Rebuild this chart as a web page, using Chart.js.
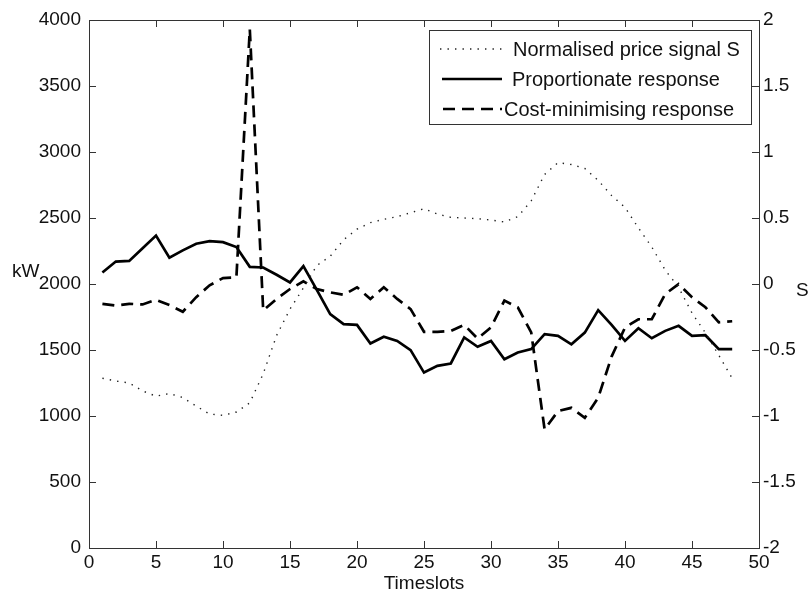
<!DOCTYPE html>
<html>
<head>
<meta charset="utf-8">
<script src="https://cdn.jsdelivr.net/npm/chart.js@4.4.1/dist/chart.umd.min.js"></script>
<style>
  html, body { margin: 0; padding: 0; background: #fff; }
  canvas { display: block; }
</style>
</head>
<body>
<canvas id="c" width="810" height="602"></canvas>
<script>
// ---- data ----
const timeslots = [1,2,3,4,5,6,7,8,9,10,11,12,13,14,15,16,17,18,19,20,21,22,23,24,
                   25,26,27,28,29,30,31,32,33,34,35,36,37,38,39,40,41,42,43,44,45,46,47,48];
const priceSignal = [-0.714,-0.735,-0.75,-0.81,-0.85,-0.83,-0.86,-0.925,-0.985,-0.995,-0.97,-0.9,
                     -0.68,-0.39,-0.19,-0.03,0.14,0.21,0.335,0.415,0.465,0.49,0.51,0.54,
                     0.57,0.53,0.505,0.5,0.495,0.485,0.47,0.51,0.63,0.83,0.92,0.905,
                     0.875,0.785,0.67,0.58,0.425,0.28,0.105,-0.025,-0.22,-0.37,-0.54,-0.715];
const proportionate = [2087,2170,2175,2270,2367,2200,2255,2305,2325,2317,2280,2130,
                       2125,2070,2012,2135,1955,1772,1696,1690,1549,1600,1569,1499,
                       1329,1380,1398,1595,1524,1569,1430,1481,1507,1620,1607,1543,
                       1632,1802,1691,1569,1665,1589,1645,1683,1607,1612,1507,1507];
const costMinimising = [1850,1837,1850,1845,1880,1840,1790,1900,1990,2045,2050,3930,
                        1800,1887,1962,2020,1962,1937,1918,1975,1887,1975,1887,1810,
                        1638,1638,1645,1690,1587,1671,1874,1823,1633,898,1037,1062,
                        986,1139,1450,1670,1733,1733,1924,1999,1900,1824,1710,1718];
const xTickValues = [0,5,10,15,20,25,30,35,40,45,50];
const kwTickValues = [0,500,1000,1500,2000,2500,3000,3500,4000];
const sTickValues = [-2,-1.5,-1,-0.5,0,0.5,1,1.5,2];
const seriesLabels = ['Normalised price signal S','Proportionate response','Cost-minimising response'];
const xTitle = 'Timeslots';
const leftTitle = 'kW';
const rightTitle = 'S';

// ---- styling ----
const FONT = '"Liberation Sans", Arial, Helvetica, sans-serif';
const TICK_SIZE = 19;
const AXIS_COLOR = '#333';
const TEXT_COLOR = '#111';

const toXY = (ys) => timeslots.map((t, i) => ({ x: t, y: ys[i] }));

const styles = [
  { color: '#222', width: 1.4, dash: [1.4, 6.1] },
  { color: '#000', width: 2.7, dash: [] },
  { color: '#000', width: 2.7, dash: [12, 7] }
];

const decorPlugin = {
  id: 'decor',
  afterDatasetsDraw(chart) {
    const { ctx, chartArea: a, scales } = chart;
    ctx.save();
    // frame
    ctx.strokeStyle = AXIS_COLOR;
    ctx.lineWidth = 1;
    ctx.strokeRect(Math.round(a.left) + 0.5, Math.round(a.top) + 0.5,
                   Math.round(a.right - a.left), Math.round(a.bottom - a.top));
    // inward ticks
    const TL = 7;
    ctx.beginPath();
    xTickValues.forEach(v => {
      const px = Math.round(scales.x.getPixelForValue(v)) + 0.5;
      ctx.moveTo(px, a.bottom); ctx.lineTo(px, a.bottom - TL);
      ctx.moveTo(px, a.top); ctx.lineTo(px, a.top + TL);
    });
    kwTickValues.forEach(v => {
      const py = Math.round(scales.y.getPixelForValue(v)) + 0.5;
      ctx.moveTo(a.left, py); ctx.lineTo(a.left + TL, py);
    });
    sTickValues.forEach(v => {
      const py = Math.round(scales.y2.getPixelForValue(v)) + 0.5;
      ctx.moveTo(a.right, py); ctx.lineTo(a.right - TL, py);
    });
    ctx.stroke();

    // axis titles
    ctx.fillStyle = TEXT_COLOR;
    ctx.font = TICK_SIZE + 'px ' + FONT;
    ctx.textBaseline = 'middle';
    ctx.textAlign = 'center';
    ctx.fillText(xTitle, (a.left + a.right) / 2, 584);
    ctx.textAlign = 'left';
    ctx.fillText(leftTitle, 12, 272);
    ctx.fillText(rightTitle, 796, 291);

    // legend
    const box = { l: 429.5, t: 30.5, r: 751.5, b: 124.5 };
    ctx.fillStyle = '#fff';
    ctx.fillRect(box.l, box.t, box.r - box.l, box.b - box.t);
    ctx.strokeStyle = AXIS_COLOR;
    ctx.lineWidth = 1;
    ctx.setLineDash([]);
    ctx.strokeRect(box.l, box.t, box.r - box.l, box.b - box.t);
    const rowsY = [49, 79, 109];
    const lineX = [[440, 503], [442, 502], [443, 502]];
    const textX = [513, 512, 504];
    ctx.font = '20px ' + FONT;
    for (let i = 0; i < 3; i++) {
      const s = styles[i];
      ctx.beginPath();
      ctx.strokeStyle = s.color;
      ctx.lineWidth = s.width;
      ctx.setLineDash(s.dash);
      ctx.moveTo(lineX[i][0], rowsY[i]);
      ctx.lineTo(lineX[i][1], rowsY[i]);
      ctx.stroke();
      ctx.setLineDash([]);
      ctx.fillStyle = TEXT_COLOR;
      ctx.textAlign = 'left';
      ctx.textBaseline = 'middle';
      ctx.fillText(seriesLabels[i], textX[i], rowsY[i] + 1);
    }
    ctx.restore();
  }
};

new Chart(document.getElementById('c'), {
  type: 'line',
  data: {
    datasets: [
      { label: seriesLabels[0], data: toXY(priceSignal), yAxisID: 'y2',
        borderColor: styles[0].color, borderWidth: styles[0].width, borderDash: styles[0].dash,
        pointRadius: 0, tension: 0, fill: false },
      { label: seriesLabels[1], data: toXY(proportionate), yAxisID: 'y',
        borderColor: styles[1].color, borderWidth: styles[1].width, borderDash: styles[1].dash,
        pointRadius: 0, tension: 0, fill: false, borderJoinStyle: 'miter' },
      { label: seriesLabels[2], data: toXY(costMinimising), yAxisID: 'y',
        borderColor: styles[2].color, borderWidth: styles[2].width, borderDash: styles[2].dash,
        pointRadius: 0, tension: 0, fill: false, borderJoinStyle: 'miter' }
    ]
  },
  options: {
    responsive: false,
    animation: false,
    devicePixelRatio: 1,
    layout: { padding: { top: 20, left: 0, right: 0, bottom: 0 } },
    plugins: { legend: { display: false }, tooltip: { enabled: false } },
    scales: {
      x: {
        type: 'linear', min: 0, max: 50,
        afterBuildTicks: (s) => { s.ticks = xTickValues.map(v => ({ value: v })); },
        afterFit: (s) => { s.height = 54; },
        grid: { display: false, drawTicks: false },
        border: { display: false },
        ticks: { color: TEXT_COLOR, font: { family: FONT, size: TICK_SIZE }, padding: 3, maxRotation: 0, autoSkip: false },
        title: { display: false }
      },
      y: {
        type: 'linear', position: 'left', min: 0, max: 4000,
        afterBuildTicks: (s) => { s.ticks = kwTickValues.map(v => ({ value: v })); },
        afterFit: (s) => { s.width = 89; },
        grid: { display: false, drawTicks: false },
        border: { display: false },
        ticks: { color: TEXT_COLOR, font: { family: FONT, size: TICK_SIZE }, padding: 8, autoSkip: false,
                 callback: (v) => String(v) }
      },
      y2: {
        type: 'linear', position: 'right', min: -2, max: 2,
        afterBuildTicks: (s) => { s.ticks = sTickValues.map(v => ({ value: v })); },
        afterFit: (s) => { s.width = 51; },
        grid: { display: false, drawTicks: false },
        border: { display: false },
        ticks: { color: TEXT_COLOR, font: { family: FONT, size: TICK_SIZE }, padding: 4, autoSkip: false,
                 callback: (v) => String(v) }
      }
    }
  },
  plugins: [decorPlugin]
});
</script>
</body>
</html>
